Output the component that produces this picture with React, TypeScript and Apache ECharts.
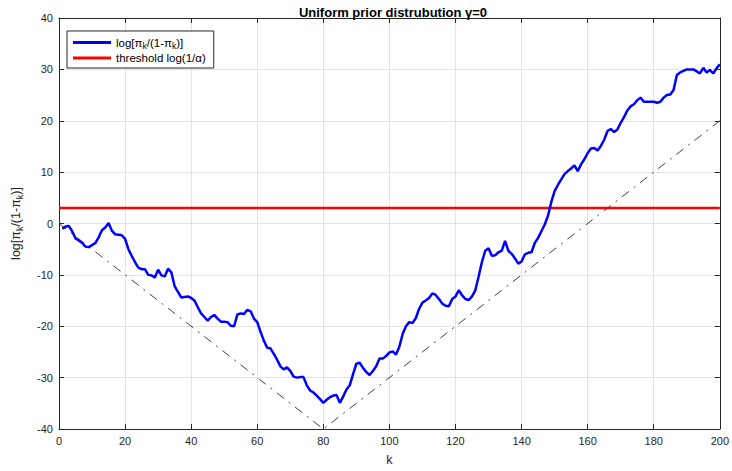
import React, { useEffect, useRef } from "react";
import * as echarts from "echarts";

const kStart = 1;
const logOdds = [
  -1.0, -0.6, -0.5, -1.5, -2.9, -3.3, -3.8, -4.5, -4.6, -4.2,
  -3.8, -2.7, -1.3, -0.8, 0.1, -1.4, -2.1, -2.2, -2.3, -3.0,
  -5.0, -6.3, -7.5, -8.6, -8.9, -8.9, -10.0, -10.1, -10.5, -9.0,
  -10.1, -10.3, -8.8, -9.5, -12.2, -13.3, -14.4, -14.3, -14.2, -14.5,
  -15.0, -16.3, -17.5, -18.2, -18.9, -18.2, -17.8, -18.5, -19.1, -19.1,
  -19.2, -19.9, -20.0, -17.7, -17.5, -17.6, -16.8, -17.1, -18.5, -19.2,
  -21.1, -22.8, -24.2, -24.3, -25.4, -26.5, -27.8, -28.4, -28.0, -28.7,
  -29.8, -30.0, -29.9, -29.9, -31.5, -32.5, -32.9, -33.5, -34.2, -34.9,
  -34.3, -33.8, -33.5, -33.4, -34.9, -33.7, -32.3, -31.5, -29.3, -27.3,
  -27.1, -28.1, -28.9, -29.5, -28.7, -27.8, -26.3, -26.3, -25.8, -25.1,
  -24.9, -25.5, -24.0, -21.5, -20.0, -19.2, -19.4, -18.4, -16.6, -15.4,
  -15.0, -14.5, -13.6, -13.9, -14.7, -15.6, -16.0, -16.1, -14.7, -14.2,
  -13.0, -14.0, -14.7, -14.9, -14.2, -13.0, -10.3, -7.5, -5.3, -4.8,
  -6.3, -6.2, -5.6, -5.3, -3.4, -5.3, -5.9, -6.8, -7.8, -7.4,
  -6.0, -5.7, -5.6, -3.8, -2.8, -1.5, -0.2, 1.5, 4.2, 6.3,
  7.5, 8.6, 9.6, 10.2, 10.7, 11.3, 10.2, 11.5, 12.5, 13.7,
  14.6, 14.7, 14.2, 15.1, 16.3, 18.0, 18.4, 17.8, 18.3, 19.6,
  20.7, 22.0, 22.8, 23.2, 24.0, 24.5, 23.7, 23.7, 23.7, 23.7,
  23.5, 23.7, 24.5, 25.0, 25.1, 26.0, 28.9, 29.4, 29.7, 30.0,
  30.0, 30.0, 29.6, 29.2, 30.3, 29.4, 29.9, 29.2, 30.2, 31.0,
];
const thresholdValue = 3;
const thresholdPoints = [[0, thresholdValue], [200, thresholdValue]];
const boundPoints = [[0, 0], [80, -40], [200, 20]];

const xMin = 0, xMax = 200, xStep = 20;
const yMin = -40, yMax = 40, yStep = 10;

const FONT = "'Liberation Sans', Arial, sans-serif";

export default function App() {
  const ref = useRef<HTMLDivElement>(null);
  useEffect(() => {
    document.body.style.margin = "0";
    const chart = echarts.init(ref.current!, null, { renderer: "svg" });
    const blueData = logOdds.map((v, i) => [kStart + i, v]);
    const axisCommon = {
      axisLine: { show: true, onZero: false, lineStyle: { color: "#262626", width: 1 } },
      axisTick: { show: true, inside: true, length: 5, lineStyle: { color: "#262626" } },
    };
    chart.setOption({
      animation: false,
      backgroundColor: "#fff",
      textStyle: { fontFamily: FONT },
      title: {
        text: "Uniform prior distrubution γ=0",
        left: 388,
        textAlign: "center",
        top: 1,
        textStyle: { fontSize: 13, fontWeight: "bold", color: "#000", fontFamily: FONT },
      },
      legend: {
        data: ["blue", "threshold"],
        orient: "vertical",
        left: 67,
        top: 31,
        padding: [4, 8, 4, 6],
        itemGap: 2,
        itemWidth: 38,
        itemHeight: 3,
        icon: "rect",
        backgroundColor: "#fff",
        borderColor: "#262626",
        borderWidth: 1,
        borderRadius: 0,
        formatter: (name: string) =>
          name === "blue"
            ? "{a|log[π}{s|k}{a|/(1-π}{s|k}{a|)]}"
            : "{a|threshold log(1/α)}",
        textStyle: {
          fontSize: 11.5,
          color: "#000",
          fontFamily: FONT,
          rich: {
            a: { fontSize: 11.5, color: "#000", fontFamily: FONT, lineHeight: 14 },
            s: { fontSize: 8.5, color: "#000", fontFamily: FONT, lineHeight: 14, padding: [6, 0, 0, 0] },
          },
        },
      },
      grid: { left: 55, right: 10, top: 18, bottom: 42, containLabel: false },
      xAxis: [
        {
          type: "value",
          min: xMin,
          max: xMax,
          interval: xStep,
          position: "bottom",
          name: "k",
          nameLocation: "middle",
          nameGap: 24,
          nameTextStyle: { fontSize: 12.5, color: "#262626", fontFamily: FONT },
          ...axisCommon,
          axisLabel: { fontSize: 11, color: "#262626", margin: 6, fontFamily: FONT },
          splitLine: { show: true, lineStyle: { color: "#e3e3e3", width: 1 } },
        },
        {
          type: "value",
          min: xMin,
          max: xMax,
          interval: xStep,
          position: "top",
          ...axisCommon,
          axisLabel: { show: false },
          splitLine: { show: false },
        },
      ],
      yAxis: [
        {
          type: "value",
          min: yMin,
          max: yMax,
          interval: yStep,
          position: "left",
          name: "{a|log[π}{s|k}{a|/(1-π}{s|k}{a|)]}",
          nameLocation: "middle",
          nameGap: 34,
          nameTextStyle: {
            fontSize: 12.5,
            color: "#262626",
            fontFamily: FONT,
            rich: {
              a: { fontSize: 12.5, color: "#262626", fontFamily: FONT, lineHeight: 18 },
              s: { fontSize: 9, color: "#262626", fontFamily: FONT, lineHeight: 18, padding: [7, 0, 0, 0] },
            },
          },
          ...axisCommon,
          axisLabel: { fontSize: 11, color: "#262626", margin: 6, fontFamily: FONT },
          splitLine: { show: true, lineStyle: { color: "#e3e3e3", width: 1 } },
        },
        {
          type: "value",
          min: yMin,
          max: yMax,
          interval: yStep,
          position: "right",
          ...axisCommon,
          axisLabel: { show: false },
          splitLine: { show: false },
        },
      ],
      series: [
        {
          name: "bound",
          type: "line",
          data: boundPoints,
          showSymbol: false,
          symbol: "none",
          lineStyle: { color: "#404040", width: 1, type: [9, 6, 2, 6] },
          z: 2,
        },
        {
          name: "threshold",
          type: "line",
          data: thresholdPoints,
          showSymbol: false,
          symbol: "none",
          color: "#ff0000",
          lineStyle: { color: "#ff0000", width: 2.5 },
          z: 3,
        },
        {
          name: "blue",
          type: "line",
          data: blueData,
          showSymbol: false,
          symbol: "none",
          color: "#0000ff",
          lineStyle: { color: "#0000ff", width: 2.5 },
          z: 4,
        },
      ],
    });
    return () => chart.dispose();
  }, []);
  return <div ref={ref} style={{ width: 732, height: 471 }} />;
}
